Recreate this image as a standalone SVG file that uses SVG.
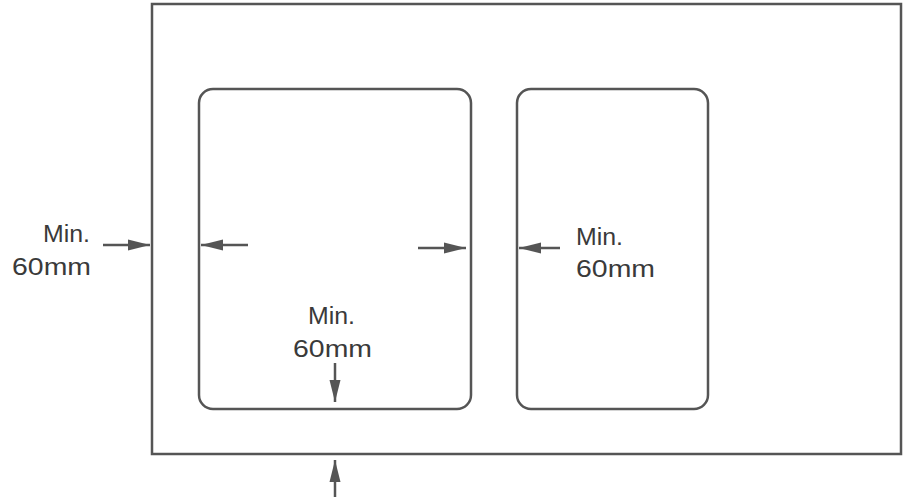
<svg xmlns="http://www.w3.org/2000/svg" width="908" height="503" viewBox="0 0 908 503">
<style>
.box{fill:#fff;stroke:#555;stroke-width:2.5}
.ln{stroke:#555;stroke-width:2.5;fill:none}
.t{font-family:"Liberation Sans",Arial,sans-serif;font-size:23px;fill:#3a3a3a}
</style>
<defs>
<marker id="ah" markerUnits="userSpaceOnUse" markerWidth="24" markerHeight="12" refX="22" refY="6" orient="auto">
<path d="M0,0.5 L22,6 L0,11.5 Z" fill="#555"/>
</marker>
</defs>
<rect width="908" height="503" fill="#fff"/>
<g id="outer"><rect class="box" x="152" y="4" width="749" height="450"/></g>
<g id="rect1"><rect class="box" x="199" y="89" width="272" height="320" rx="14"/></g>
<g id="rect2"><rect class="box" x="517" y="89" width="191" height="320" rx="14"/></g>
<g id="connectors">
<line class="ln" x1="103" y1="245" x2="150" y2="245" marker-end="url(#ah)"/>
<line class="ln" x1="248" y1="245" x2="201" y2="245" marker-end="url(#ah)"/>
<line class="ln" x1="418" y1="248" x2="466" y2="248" marker-end="url(#ah)"/>
<line class="ln" x1="560" y1="248" x2="519" y2="248" marker-end="url(#ah)"/>
<line class="ln" x1="335" y1="363" x2="335" y2="402" marker-end="url(#ah)"/>
<line class="ln" x1="335" y1="497" x2="335" y2="460" marker-end="url(#ah)"/>
</g>
<g id="labels">
<text class="t" x="43" y="242" textLength="47" lengthAdjust="spacingAndGlyphs">Min.</text>
<text class="t" x="12" y="275" textLength="79" lengthAdjust="spacingAndGlyphs">60mm</text>
<text class="t" x="576" y="245" textLength="47" lengthAdjust="spacingAndGlyphs">Min.</text>
<text class="t" x="576" y="277" textLength="79" lengthAdjust="spacingAndGlyphs">60mm</text>
<text class="t" x="308" y="324" textLength="47" lengthAdjust="spacingAndGlyphs">Min.</text>
<text class="t" x="293" y="357" textLength="79" lengthAdjust="spacingAndGlyphs">60mm</text>
</g>
</svg>
